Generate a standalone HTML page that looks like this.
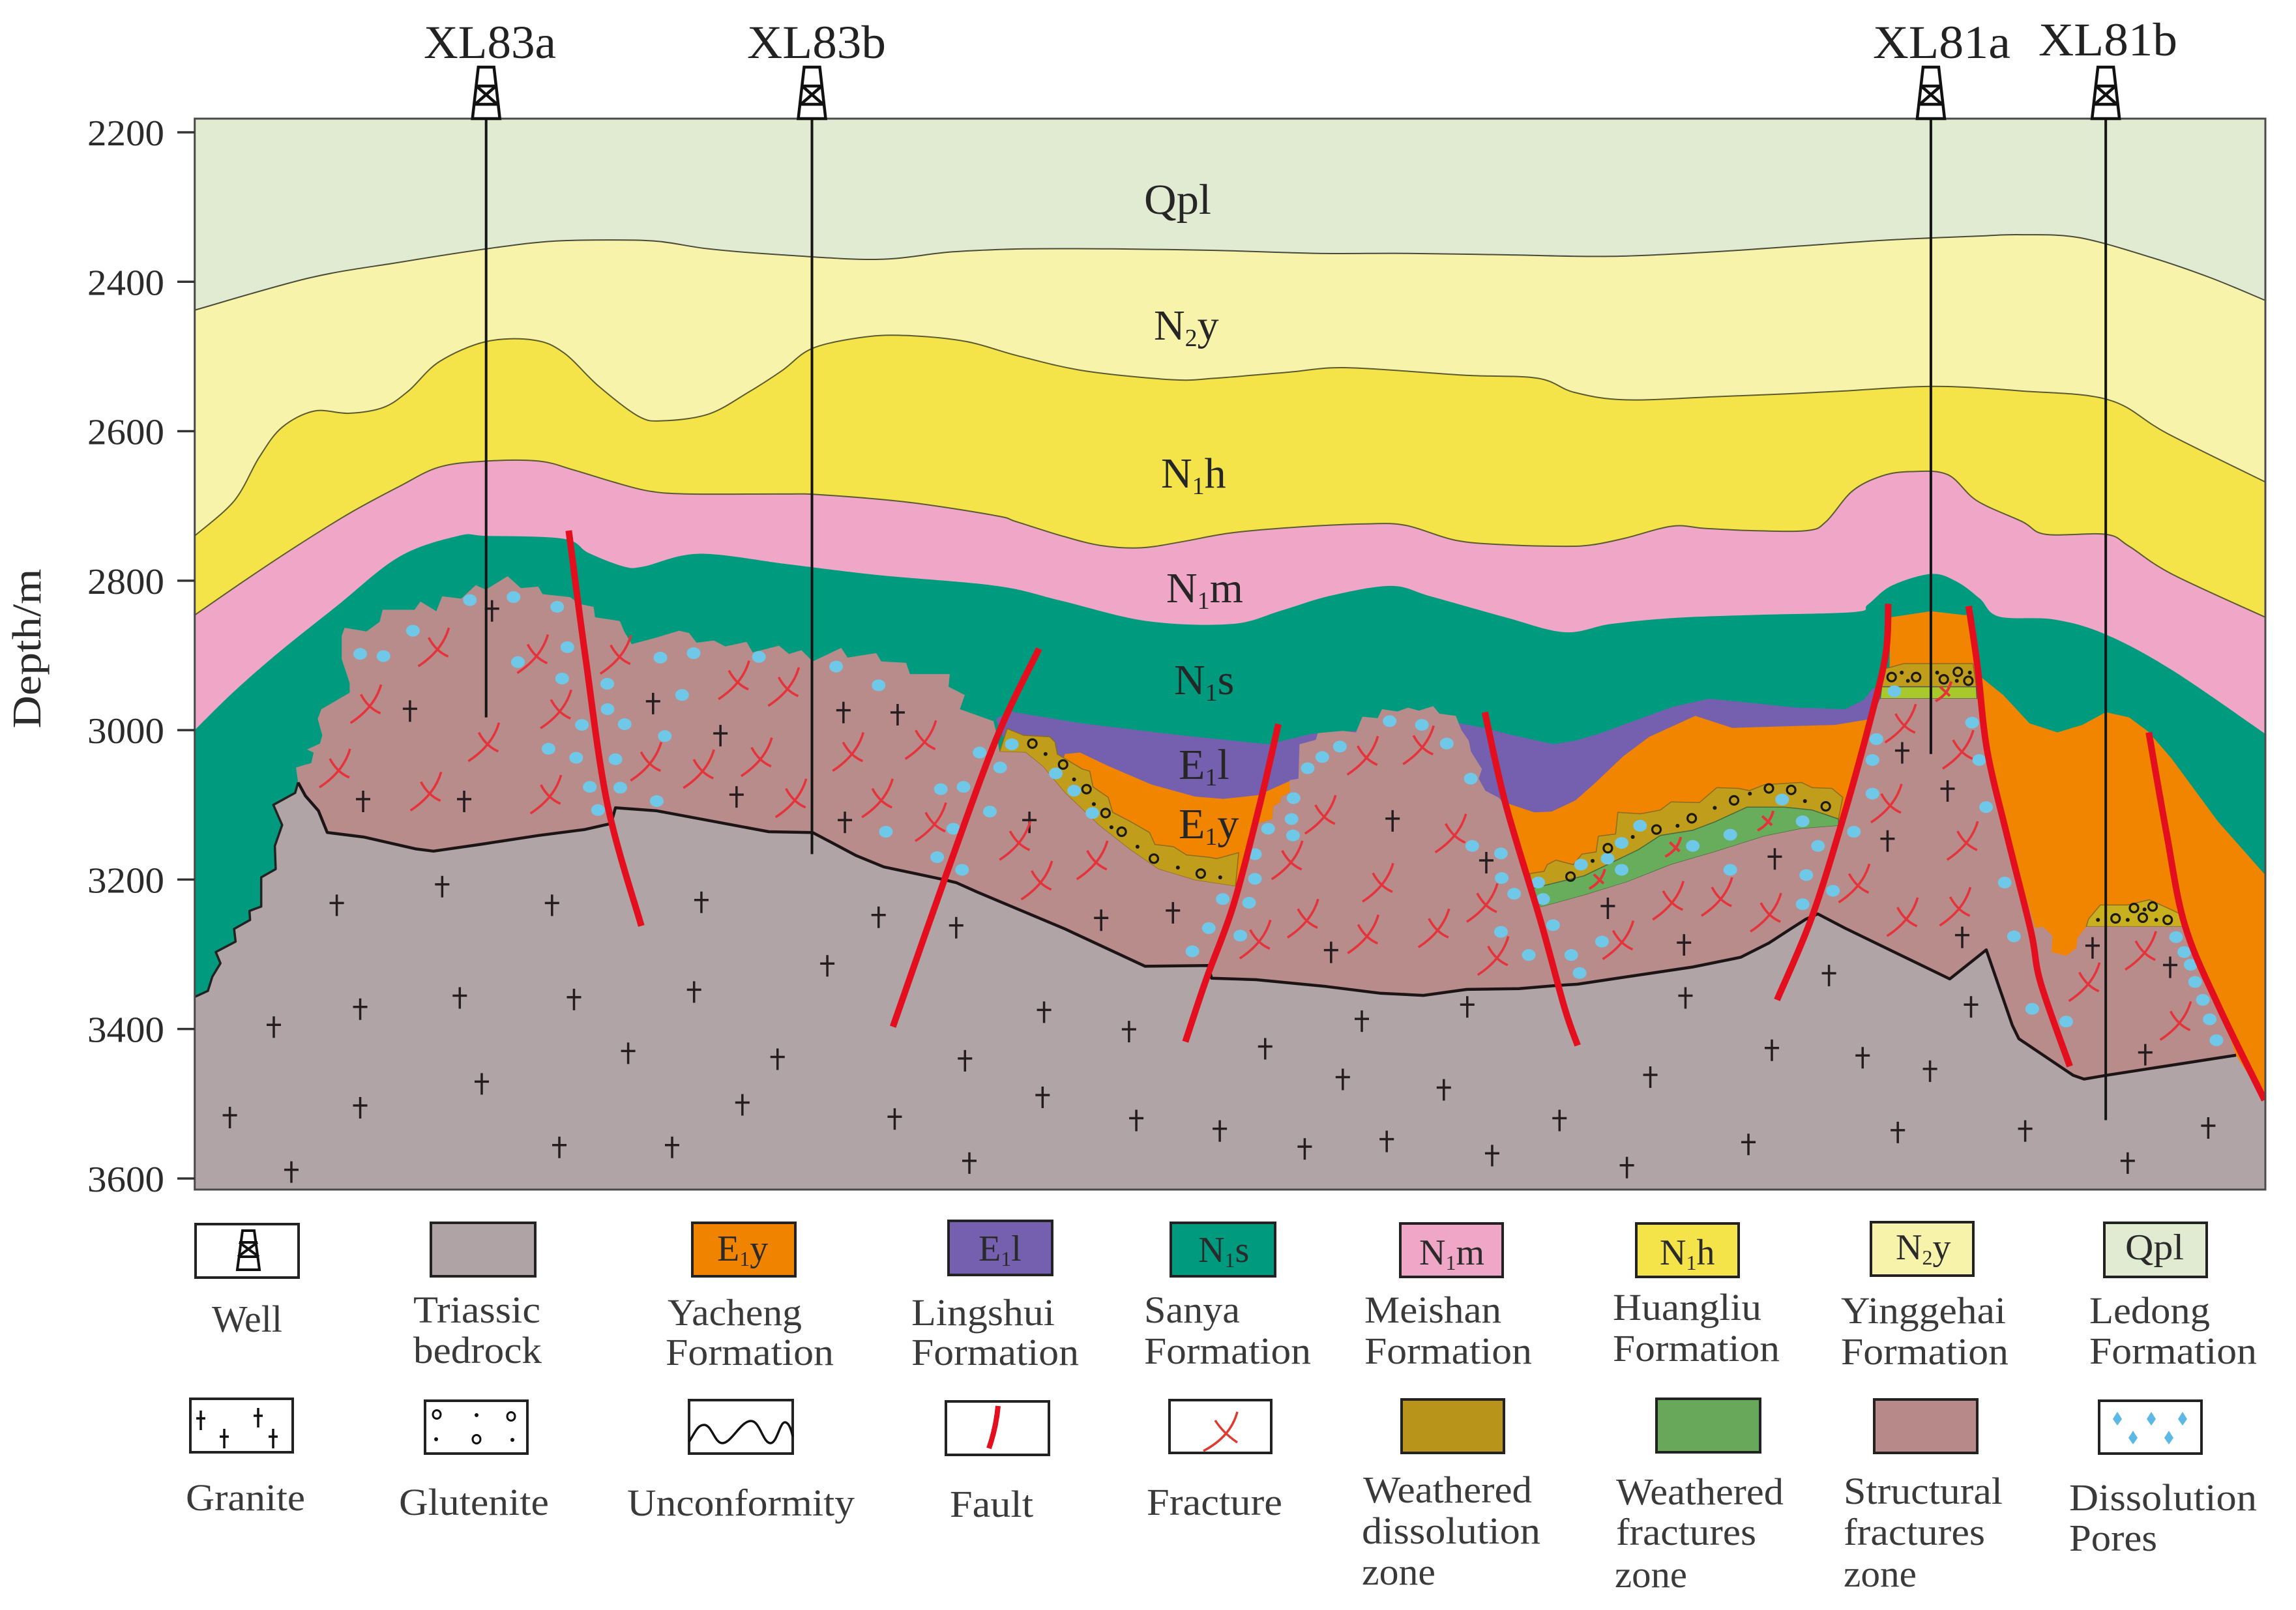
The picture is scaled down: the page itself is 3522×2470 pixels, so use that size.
<!DOCTYPE html>
<html lang="en">
<head>
<meta charset="utf-8">
<title>Geological cross-section</title>
<style>
html,body{margin:0;padding:0;background:#fff;}
svg{display:block;}
text{font-family:"Liberation Serif",serif;fill:#2b2b2b;}
.lg{font-size:58px;fill:#3a3a3a;}
.bx{stroke:#222;stroke-width:4;}
.sw{font-size:56px;fill:#2a2a2a;}
.ly{font-size:66px;fill:#262626;}
.wl{font-size:72px;fill:#222;}
</style>
</head>
<body>
<svg id="chart" xmlns="http://www.w3.org/2000/svg" width="3522" height="2470" viewBox="0 0 3522 2470">
<rect x="0" y="0" width="3522" height="2470" fill="#fff"/>
<defs><clipPath id="plotClip"><rect x="298.7" y="182" width="3176.3" height="1643"/></clipPath></defs>
<g id="plot" clip-path="url(#plotClip)"></g>
<rect x="298.7" y="182" width="3176.3" height="1643" fill="none" stroke="#4a4a4a" stroke-width="3"/>
<g id="axis"></g>
<text transform="translate(62,995) rotate(-90)" text-anchor="middle" font-size="62" textLength="245" lengthAdjust="spacingAndGlyphs">Depth/m</text>
<g id="wells"></g>
<text class="wl" x="650" y="89" textLength="203" lengthAdjust="spacingAndGlyphs">XL83a</text>
<text class="wl" x="1146" y="89" textLength="213" lengthAdjust="spacingAndGlyphs">XL83b</text>
<text class="wl" x="2873" y="89" textLength="211" lengthAdjust="spacingAndGlyphs">XL81a</text>
<text class="wl" x="3127" y="85" textLength="213" lengthAdjust="spacingAndGlyphs">XL81b</text>
<text class="ly" x="1755" y="328" textLength="103" lengthAdjust="spacingAndGlyphs">Qpl</text>
<text class="ly" x="1770" y="521">N<tspan font-size="38" dy="10">2</tspan><tspan dy="-10">y</tspan></text>
<text class="ly" x="1781" y="748">N<tspan font-size="38" dy="10">1</tspan><tspan dy="-10">h</tspan></text>
<text class="ly" x="1789" y="924">N<tspan font-size="38" dy="10">1</tspan><tspan dy="-10">m</tspan></text>
<text class="ly" x="1801" y="1065">N<tspan font-size="38" dy="10">1</tspan><tspan dy="-10">s</tspan></text>
<text class="ly" x="1808" y="1195">E<tspan font-size="38" dy="10">1</tspan><tspan dy="-10">l</tspan></text>
<text class="ly" x="1808" y="1286">E<tspan font-size="38" dy="10">1</tspan><tspan dy="-10">y</tspan></text>

<g>
<g>
<rect class="bx" x="300" y="1878" width="158" height="82" fill="#fff"/>
<path d="M372 1888h18l8 60h-34z M367 1906h28 M365 1928h32 M367 1906l30 22 M395 1906l-30 22" fill="none" stroke="#111" stroke-width="4"/>
<text class="lg" x="325" y="2043" textLength="108" lengthAdjust="spacingAndGlyphs">Well</text>
</g>
<g>
<rect class="bx" x="661" y="1876" width="160" height="82" fill="#b0a3a5"/>
<text class="lg" x="634" y="2029" textLength="195" lengthAdjust="spacingAndGlyphs">Triassic</text>
<text class="lg" x="634" y="2091" textLength="197" lengthAdjust="spacingAndGlyphs">bedrock</text>
</g>
<g>
<rect class="bx" x="1062" y="1876" width="158" height="82" fill="#f08300"/>
<text class="sw" x="1100" y="1934">E<tspan font-size="32" dy="8">1</tspan><tspan dy="-8">y</tspan></text>
<text class="lg" x="1024" y="2033" textLength="206" lengthAdjust="spacingAndGlyphs">Yacheng</text>
<text class="lg" x="1021" y="2094" textLength="258" lengthAdjust="spacingAndGlyphs">Formation</text>
</g>
<g>
<rect class="bx" x="1455" y="1873" width="159" height="83" fill="#7460ae"/>
<text class="sw" x="1501" y="1934">E<tspan font-size="32" dy="8">1</tspan><tspan dy="-8">l</tspan></text>
<text class="lg" x="1398" y="2033" textLength="220" lengthAdjust="spacingAndGlyphs">Lingshui</text>
<text class="lg" x="1398" y="2094" textLength="257" lengthAdjust="spacingAndGlyphs">Formation</text>
</g>
<g>
<rect class="bx" x="1796" y="1876" width="160" height="82" fill="#009b7e"/>
<text class="sw" x="1838" y="1936">N<tspan font-size="32" dy="8">1</tspan><tspan dy="-8">s</tspan></text>
<text class="lg" x="1755" y="2029" textLength="147" lengthAdjust="spacingAndGlyphs">Sanya</text>
<text class="lg" x="1755" y="2092" textLength="256" lengthAdjust="spacingAndGlyphs">Formation</text>
</g>
<g>
<rect class="bx" x="2148" y="1877" width="157" height="82" fill="#f0a6c6"/>
<text class="sw" x="2177" y="1940">N<tspan font-size="32" dy="8">1</tspan><tspan dy="-8">m</tspan></text>
<text class="lg" x="2093" y="2029" textLength="210" lengthAdjust="spacingAndGlyphs">Meishan</text>
<text class="lg" x="2093" y="2092" textLength="257" lengthAdjust="spacingAndGlyphs">Formation</text>
</g>
<g>
<rect class="bx" x="2510" y="1877" width="157" height="82" fill="#f4e44a"/>
<text class="sw" x="2546" y="1940">N<tspan font-size="32" dy="8">1</tspan><tspan dy="-8">h</tspan></text>
<text class="lg" x="2474" y="2025" textLength="228" lengthAdjust="spacingAndGlyphs">Huangliu</text>
<text class="lg" x="2474" y="2088" textLength="256" lengthAdjust="spacingAndGlyphs">Formation</text>
</g>
<g>
<rect class="bx" x="2870" y="1875" width="157" height="82" fill="#f8f3aa"/>
<text class="sw" x="2908" y="1932">N<tspan font-size="32" dy="8">2</tspan><tspan dy="-8">y</tspan></text>
<text class="lg" x="2824" y="2030" textLength="253" lengthAdjust="spacingAndGlyphs">Yinggehai</text>
<text class="lg" x="2824" y="2093" textLength="257" lengthAdjust="spacingAndGlyphs">Formation</text>
</g>
<g>
<rect class="bx" x="3228" y="1876" width="157" height="83" fill="#e0ebd2"/>
<text class="sw" x="3260" y="1932" textLength="90" lengthAdjust="spacingAndGlyphs">Qpl</text>
<text class="lg" x="3205" y="2030" textLength="185" lengthAdjust="spacingAndGlyphs">Ledong</text>
<text class="lg" x="3205" y="2092" textLength="257" lengthAdjust="spacingAndGlyphs">Formation</text>
</g>
<g>
<rect class="bx" x="292" y="2146" width="157" height="82" fill="#fff"/>
<path d="M308 2164v30M301 2176h14M396 2160v30M389 2172h14M344 2192v30M337 2204h14M419 2192v30M412 2204h14" fill="none" stroke="#111" stroke-width="3.5"/>
<text class="lg" x="285" y="2317" textLength="183" lengthAdjust="spacingAndGlyphs">Granite</text>
</g>
<g>
<rect class="bx" x="652" y="2149" width="157" height="81" fill="#fff"/>
<g fill="none" stroke="#111" stroke-width="3"><ellipse cx="670" cy="2170" rx="6" ry="6.5"/><ellipse cx="784" cy="2173" rx="6" ry="6.5"/><ellipse cx="731" cy="2208" rx="6" ry="6.5"/></g>
<g fill="#111"><circle cx="731" cy="2171" r="3"/><circle cx="669" cy="2208" r="3"/><circle cx="786" cy="2209" r="3"/></g>
<text class="lg" x="612" y="2324" textLength="230" lengthAdjust="spacingAndGlyphs">Glutenite</text>
</g>
<g>
<rect class="bx" x="1057" y="2148" width="159" height="82" fill="#fff"/>
<path d="M1057 2212C1066 2198 1070 2186 1080 2186C1092 2186 1096 2214 1108 2214C1122 2214 1136 2180 1152 2180C1166 2180 1170 2214 1182 2214C1192 2214 1196 2182 1204 2182C1210 2182 1214 2194 1216 2204" fill="none" stroke="#111" stroke-width="3.5"/>
<text class="lg" x="962" y="2325" textLength="349" lengthAdjust="spacingAndGlyphs">Unconformity</text>
</g>
<g>
<rect class="bx" x="1451" y="2150" width="158" height="82" fill="#fff"/>
<path d="M1531 2157Q1528 2190 1517 2222" fill="none" stroke="#e30f1e" stroke-width="8"/>
<text class="lg" x="1457" y="2327" textLength="128" lengthAdjust="spacingAndGlyphs">Fault</text>
</g>
<g>
<rect class="bx" x="1794" y="2148" width="156" height="81" fill="#fff"/>
<path d="M1846 2226Q1888 2204 1898 2166M1864 2179Q1876 2198 1898 2213" fill="none" stroke="#e0392f" stroke-width="3.5"/>
<text class="lg" x="1759" y="2324" textLength="208" lengthAdjust="spacingAndGlyphs">Fracture</text>
</g>
<g>
<rect class="bx" x="2150" y="2147" width="157" height="82" fill="#b8941a"/>
<text class="lg" x="2091" y="2305" textLength="259" lengthAdjust="spacingAndGlyphs">Weathered</text>
<text class="lg" x="2089" y="2368" textLength="274" lengthAdjust="spacingAndGlyphs">dissolution</text>
<text class="lg" x="2089" y="2431" textLength="113" lengthAdjust="spacingAndGlyphs">zone</text>
</g>
<g>
<rect class="bx" x="2541" y="2146" width="159" height="82" fill="#68a85a"/>
<text class="lg" x="2479" y="2308" textLength="257" lengthAdjust="spacingAndGlyphs">Weathered</text>
<text class="lg" x="2479" y="2370" textLength="215" lengthAdjust="spacingAndGlyphs">fractures</text>
<text class="lg" x="2477" y="2435" textLength="111" lengthAdjust="spacingAndGlyphs">zone</text>
</g>
<g>
<rect class="bx" x="2875" y="2147" width="158" height="82" fill="#b78a89"/>
<text class="lg" x="2828" y="2307" textLength="244" lengthAdjust="spacingAndGlyphs">Structural</text>
<text class="lg" x="2828" y="2370" textLength="217" lengthAdjust="spacingAndGlyphs">fractures</text>
<text class="lg" x="2828" y="2434" textLength="112" lengthAdjust="spacingAndGlyphs">zone</text>
</g>
<g>
<rect class="bx" x="3220" y="2149" width="157" height="81" fill="#fff"/>
<g fill="#5cb8e4"><path d="M3248 2166l7 11l-7 10l-7-10z"/><path d="M3300 2166l7 11l-7 10l-7-10z"/><path d="M3348 2166l7 11l-7 10l-7-10z"/><path d="M3272 2195l7 11l-7 10l-7-10z"/><path d="M3327 2195l7 11l-7 10l-7-10z"/></g>
<text class="lg" x="3174" y="2317" textLength="288" lengthAdjust="spacingAndGlyphs">Dissolution</text>
<text class="lg" x="3174" y="2379" textLength="135" lengthAdjust="spacingAndGlyphs">Pores</text>
</g>
</g>
</svg>
<script>
// ---- axis data ----
const tickValues = [2200, 2400, 2600, 2800, 3000, 3200, 3400, 3600];
const tickLabels = ['2200', '2400', '2600', '2800', '3000', '3200', '3400', '3600'];
const sectionRange = [133, 1547];
const depthRange = [2182, 3615];

// ---- horizon data: [section distance, depth in metres] ----
const qplBase = [[133,2438],[211,2395],[272.6,2374],[332,2356],[375,2346],[416,2344],[450,2346],[484,2356],[534,2364],[600,2370],[650,2360],[700,2356],[760,2356],[830,2358],[900,2362],[960,2362],[1030,2364],[1100,2366],[1170,2360],[1230,2352],[1290,2344],[1350,2339],[1380,2337],[1420,2341],[1470,2368],[1510,2395],[1547,2425]];
const yinggehaiBase = [[133,2740],[160,2693],[177,2635],[192.5,2595],[214.6,2573],[238.5,2576],[262,2568],[279,2546],[300,2507],[332,2480],[364.5,2478],[385,2495],[409,2540],[436,2580],[453,2586],[484,2577],[511,2548],[534,2519],[555,2489],[590,2474],[620,2472],[660,2480],[695,2499],[740,2519],[800,2531],[830,2529],[880,2521],[920,2515],[1000,2525],[1050,2529],[1075,2548],[1110,2558],[1170,2554],[1220,2550],[1260,2546],[1320,2540],[1380,2546],[1440,2558],[1480,2603],[1547,2668]];
const huangliuBase = [[133,2846],[170,2796],[204,2752],[238.5,2710],[272.6,2674],[300,2648],[332,2640],[368,2640],[392,2652],[419,2668],[443,2680],[470,2684],[534,2684],[560,2685],[620,2695],[680,2713],[694,2721],[725,2740],[752,2753],[779.5,2756],[807,2748],[841,2736],[888.5,2728],[933,2724],[960,2726],[994,2746],[1028,2752],[1068.5,2754],[1087.6,2752],[1110,2743],[1142,2727],[1164,2730],[1196,2733],[1234,2733],[1247,2721],[1265,2680],[1285,2660],[1305,2654],[1330,2658],[1350,2693],[1381,2721],[1397,2738],[1438,2738],[1454,2754],[1483,2791],[1547,2849]];
const meishanBase = [[133,3000],[160,2948],[191,2895],[230,2834],[272.6,2768],[313,2740],[332,2740],[385,2744],[402,2763],[426,2781],[439.5,2781],[477,2764],[534,2777],[554.6,2782],[602,2793],[680.7,2807],[725,2827],[783,2854],[841,2858],[875,2840],[909,2820],[950,2807],[977,2821],[1028,2849],[1068.5,2869],[1100,2858],[1142,2850],[1196,2846],[1266,2842],[1275.6,2832],[1291.5,2807],[1318.6,2791],[1336,2801],[1352,2824],[1365,2848],[1403,2852],[1438,2872],[1482.7,2919],[1547,3005]];

// ---- formation and zone outlines ----
const lingshuiOutline = [[680,2985],[690,2975],[738.6,2991],[806.8,3007],[866.4,3019],[895.4,3005],[997.2,2991],[1013.5,2997],[1031.3,3006],[1061,3019],[1075.9,3014],[1093,3004],[1142,2969],[1167,2958],[1228,2970],[1260,2972],[1272.5,2960],[1279,2944],[1290,2942],[1290,3121],[1030,3140],[1000,3121],[890,3121],[800,3121],[725,3052],[690,3032]];
const yachengWest = [[727.2,3032],[737.5,3030],[756.8,3048],[786.5,3073],[816.2,3089],[835.5,3092],[859.2,3087],[880.8,3068],[880.8,3083],[874.8,3090],[874.1,3097],[869.6,3102],[868.9,3119],[859.2,3125],[843,3211],[700,3211]];
const yachengCentral = [[1026,3095],[1031,3099],[1047.7,3110],[1059.6,3109],[1075.9,3094],[1089.2,3071],[1108.5,3035],[1126.3,3009],[1157.7,2981],[1183,2997],[1253,2993],[1278,2985],[1270,3121],[1230,3277],[1028,3277]];
const yachengEast = [[1291,2849],[1318.5,2841],[1341.5,2846],[1345,2846],[1353.4,2930],[1368,2953],[1386,2991],[1405,3003],[1422,2993],[1438,2976],[1454,2983],[1467,3002],[1483,3038],[1514.5,3122],[1547,3194],[1547,3495],[1285,3495]];
const dissolutionWest = [[687.8,2998],[699,3007],[716.8,3009],[720.5,3016],[722,3032],[739,3052],[744.2,3055],[746.4,3076],[756.8,3090],[759.8,3110],[771.7,3122],[785,3137],[788.7,3153],[801.4,3156],[810.3,3167],[825.1,3170],[831,3172],[845.9,3164],[843.7,3209],[816.2,3201],[791,3186],[771.7,3160],[750.9,3128],[727.2,3084],[712.3,3049],[700.5,3030],[682.6,3029]];
const dissolutionCentral = [[1044.7,3192],[1054.4,3189],[1056.6,3180],[1062.5,3174],[1074.4,3180],[1080.3,3166],[1090,3163],[1091.5,3142],[1103.3,3139],[1104.8,3110],[1120.4,3112],[1133.8,3107],[1141.2,3096],[1160.5,3097],[1172.3,3077],[1187.2,3078],[1194.6,3081],[1205,3073],[1230.2,3070],[1237.6,3077],[1251,3078],[1258.4,3090],[1255.5,3119],[1237.6,3107],[1218.3,3103],[1193.1,3103],[1170.9,3123],[1156,3134],[1133.8,3141],[1118.9,3160],[1104.1,3174],[1081.8,3195],[1046.2,3212]];
const dissolutionEast = [[1424.7,3263],[1426.2,3253],[1434.3,3234],[1452.9,3234],[1467.7,3227],[1478,3236],[1490,3247],[1491.5,3263]];
const dissolutionHorst = [[1285,2919],[1300,2911],[1347.4,2911],[1349.6,2942],[1285,2942]];
const weatheredFracturesCentral = [[1046.2,3212],[1081.8,3195],[1104.1,3174],[1118.9,3160],[1133.8,3141],[1156,3134],[1170.9,3123],[1193.1,3103],[1218.3,3103],[1237.6,3107],[1255.5,3119],[1255.5,3128],[1230.2,3132],[1205,3142],[1170.9,3163],[1141.2,3180],[1111.5,3203],[1081.8,3221],[1052.1,3237]];
const weatheredFracturesHorst = [[1285,2942],[1349.6,2942],[1350,2958],[1284,2958]];
const structuralOutline = [[203.6,3070],[202.2,3050],[212.6,3044],[214.2,3030],[209.6,3026],[218.5,3018],[220.1,3007],[217,2985],[219.5,2972],[238.8,2950],[238.8,2937],[233.4,2905],[233.4,2874],[235.4,2863],[250.3,2868],[259.3,2855],[261.3,2839],[283.1,2839],[287.1,2828],[298,2841],[302,2821],[315,2824],[324.9,2806],[331.8,2812],[346.7,2794],[355.7,2810],[367.6,2808],[370.6,2818],[389.5,2822],[395.4,2831],[405.4,2835],[406.4,2849],[423.3,2854],[426.3,2868],[431.4,2885],[448.5,2876],[463.8,2867],[470.6,2870],[475.7,2883],[487.6,2880],[495.3,2888],[509.8,2882],[514,2896],[532,2887],[538.8,2898],[547.3,2893],[555,2908],[574.5,2890],[578.8,2903],[598.4,2897],[601.8,2908],[618.8,2910],[621.4,2925],[648.6,2925],[647.8,2942],[658.9,2953],[655.5,2972],[678.5,2988],[680.2,3002],[682.6,3029],[700.5,3030],[712.3,3049],[727.2,3084],[750.9,3128],[771.7,3160],[791,3186],[816.2,3201],[843.7,3209],[859.2,3125],[868.9,3119],[869.6,3102],[874.1,3097],[874.8,3090],[880.8,3083],[880.7,3067],[886.7,3065],[887.4,3019],[898.5,3013],[900,3004],[917,3001],[926,3003],[930.4,2982],[940.8,2984],[943.8,2972],[954.2,2975],[961.6,2970],[969,2974],[978.7,2968],[983,2978],[994.2,2981],[998,3000],[1003,3014],[1004.6,3029],[1012,3052],[1009.8,3065],[1014.3,3081],[1023.9,3091],[1026.9,3099],[1047.7,3215],[1052.1,3237],[1081.8,3221],[1111.5,3203],[1141.2,3180],[1170.9,3163],[1205,3142],[1230.2,3132],[1255.5,3128],[1260,3111],[1277,2987],[1284,2958],[1350,2958],[1353.6,2988],[1361.6,3077],[1389.8,3265],[1395,3263],[1401.7,3275],[1401,3297],[1411.3,3302],[1418,3291],[1418.7,3278],[1424.7,3263],[1491.5,3263],[1494,3270],[1514.5,3361],[1527,3436],[1527,3532],[203,3532]];
const bedrockWestEdge = [[133,3357],[142,3349],[145,3330],[150.6,3312],[147.4,3297],[160.9,3283],[159.9,3266],[170.8,3254],[170.4,3242],[178.4,3236],[178.4,3197],[188.3,3186],[187.7,3155],[192.7,3127],[186.7,3100],[201.6,3084],[203.6,3070]];
const bedrockContact = [[203.6,3070],[208.6,3088],[217.5,3108],[223.5,3137],[248.3,3143],[284.1,3159],[296,3162],[327.8,3153],[367.6,3141],[399.4,3133],[417.3,3125],[420.3,3104],[448.5,3108],[525.1,3136],[555,3137],[584.8,3168],[603.5,3183],[644.4,3200],[652.9,3204],[667.8,3217],[727.2,3266],[782,3316],[825,3315],[827.4,3332],[857.8,3334],[868.1,3336],[905.2,3343],[942.3,3352],[972,3355],[1001.7,3347],[1037.3,3346],[1061,3342],[1077.4,3340],[1111.5,3330],[1156,3317],[1188.7,3304],[1208,3285],[1222.8,3266],[1233.2,3253],[1241.4,3246],[1259.9,3265],[1331.5,3333],[1356.4,3294],[1374.2,3395],[1378.7,3413],[1415.8,3462],[1423.2,3467],[1438,3462],[1527,3435]];
const bedrockBase = [[1546.4,3495],[1547,3615],[133,3615]];

// ---- fault traces ----
const faultA = [[388.4,2733],[400,2905],[415,3101],[438,3262]];
const faultB = [[709.6,2891],[680.7,3010],[645,3200],[609.8,3397]];
const faultC = [[873,2992],[861,3094],[842.5,3233],[823.8,3333],[809.5,3417]];
const faultD = [[1014,2976],[1028.2,3099],[1052,3255],[1068.5,3372],[1077.4,3422]];
const faultE = [[1289.5,2831],[1287.7,2899],[1277,2988],[1259.7,3111],[1237.4,3250],[1213.5,3361]];
const faultF = [[1344.4,2834],[1350.5,2916],[1357,3027],[1371,3144],[1387,3270],[1393.5,3338],[1413.5,3450]];
const faultG = [[1467.4,3003],[1479.5,3138],[1492,3261],[1514.5,3367],[1546.4,3495]];

// ---- wells ----
const wellDistances = [332, 554.5, 1318.6, 1438];
const wellBottoms = [2983, 3166, 3032, 3522];

// ---- scattered symbols ----
const granitePoints = [[336,2840],[280,2974],[248,3095],[317,3095],[446,2964],[492,3007],[503,3089],[576,2976],[613,2979],[577,3123],[703,3123],[752,3254],[801,3244],[909,3297],[951,3121],[1015,3177],[1098,3238],[1150,3287],[1212,3172],[1299,3030],[1330,3081],[1289,3148],[1340,3277],[1346,3370],[1429,3291],[1482,3317],[1465,3434],[230,3234],[302,3209],[377,3234],[479,3230],[600,3250],[653,3264],[565,3315],[246,3373],[314,3358],[392,3360],[474,3350],[187,3397],[429,3432],[531,3440],[713,3377],[771,3403],[659,3442],[712,3491],[329,3473],[246,3505],[157,3518],[507,3501],[611,3520],[199,3591],[382,3558],[459,3558],[662,3579],[776,3522],[833,3536],[891,3560],[947,3550],[1019,3569],[1065,3522],[1111,3585],[1194,3554],[1296,3538],[1383,3536],[1453,3579],[1508,3532],[864,3426],[930,3389],[917,3467],[986,3481],[1002,3370],[1127,3464],[1210,3428],[1272,3438],[1318,3456],[1249,3328],[1151,3358]];
const fracturePoints = [[299,2891],[252.7,2967],[231.5,3053],[293.7,3084],[375.6,3088],[333.2,3018],[382.5,2974],[366.6,2900],[423.3,2901],[504,2935],[538,2944],[519.5,3038],[480,3054],[444,3044],[582,3031],[631.6,3015],[602,3093],[543,3093],[638.4,3125],[696,3150],[710.8,3203],[748.7,3176],[860,3282],[881.8,3176],[904.5,3115],[892.6,3254],[933.7,3275],[943.8,3206],[982,3267],[1015,3233],[1022.5,3304],[993.5,3140],[933.4,3036],[971.5,3022],[1107.8,3283],[1142,3230],[1175.3,3225],[1208.7,3246],[1300.7,2993],[1340,3028],[1291,3100],[1343,3150],[1269,3207],[1302,3252],[1338,3238],[1426.2,3339],[1464.7,3297],[1488.5,3391]];
const smallFracturePoints = [[1091.5,3200],[1143.4,3157],[1206.5,3122],[1328,2949]];
const porePoints = [[571,2915],[600,2940],[669,3030],[683,3050],[691,3019],[642.5,3079],[658,3076],[676,3109],[651,3132],[605,3136],[640,3170],[657,3187],[721,3058],[733.5,3081],[746,3111],[835,3226],[853,3231],[825.5,3265],[847,3275],[814.3,3296],[857,3199],[857,3166],[866,3132],[882,3119],[883.4,3091],[883,3141],[893,3051],[903,3036],[915,3022],[949,2988],[971,2993],[988,3018],[1004.4,3065],[1005.4,3155],[1025,3165],[1025.5,3198],[1034,3219],[1025,3270],[1044,3301],[1053.8,3226],[1060.6,3261],[1050.4,3204],[282,2867],[320.9,2826],[350.7,2822],[380.5,2835],[387.5,2889],[246,2898],[261.9,2901],[353.7,2909],[383.9,2931],[414.7,2938],[414.9,2972],[397.4,2993],[426.6,2992],[374.6,3025],[393.5,3037],[420.3,3039],[402.8,3076],[423.6,3077],[408.4,3107],[451,2903],[473.7,2897],[518.3,2902],[465.8,2953],[454,3008],[448.5,3095],[1079.7,3180],[1107.4,3151],[1097.8,3172],[1107.4,3187],[1120,3128],[1156,3155],[1181.6,3140],[1217,3093],[1231,3122],[1181.6,3187],[1241.5,3155],[1266,3136],[1233.5,3194],[1231,3233],[1251.7,3215],[1278.7,3085],[1278.7,3040],[1281.4,3012],[1346.7,2990],[1351.6,3040],[1356.3,3103],[1369,3204],[1375.3,3276],[1387.8,3373],[1411,3390],[1094,3283],[1073,3301],[1078.7,3325],[1486,3277],[1491.6,3297],[1496,3314],[1499,3337],[1504.3,3361],[1509,3387],[1513.6,3415],[1293.7,2948]];
const gravelCircles = [[705,3018],[726,3046],[742,3079],[755,3111],[766,3136],[788,3172],[820,3192],[1072.5,3196],[1098,3158],[1131.2,3133],[1155.3,3118],[1184.2,3094],[1208,3078],[1223.2,3080],[1246.8,3102],[1291.8,2929],[1308.5,2929],[1327.4,2932],[1337,2922],[1344.2,2934],[1444.7,3252],[1457.3,3238],[1463.3,3251],[1470,3236],[1480.3,3254]];
const gravelDots = [[714,3032],[733.5,3066],[747,3099],[759,3130],[776.8,3156],[804.4,3184],[833.3,3197],[1087.6,3175],[1115,3143],[1145.6,3128],[1171,3104],[1195,3085],[1232.6,3095],[1298.7,2923],[1302.9,2934],[1322.9,2923],[1336.3,2934],[1345.2,2923],[1432.7,3254],[1453,3254],[1472.5,3254],[1464.5,3240]];

// ---- scales ----
const xScale = d => 298.7 + (d - sectionRange[0]) * (3475 - 298.7) / (sectionRange[1] - sectionRange[0]);
const yScale = v => 203 + (v - 2200) * 1.1464;

const NS = 'http://www.w3.org/2000/svg';
const plot = document.getElementById('plot');
const axis = document.getElementById('axis');
const wells = document.getElementById('wells');

function make(tag, parent, attrs) {
  const el = document.createElementNS(NS, tag);
  for (const k in attrs) el.setAttribute(k, attrs[k]);
  parent.appendChild(el);
  return el;
}
function straight(pts) {
  return pts.map((p, i) => (i ? 'L' : 'M') + xScale(p[0]).toFixed(1) + ' ' + yScale(p[1]).toFixed(1)).join('');
}
function smooth(pts) {
  const P = pts.map(p => [xScale(p[0]), yScale(p[1])]);
  let d = 'M' + P[0][0].toFixed(1) + ' ' + P[0][1].toFixed(1);
  for (let i = 0; i < P.length - 1; i++) {
    const a = P[Math.max(i - 1, 0)], b = P[i], c = P[i + 1], e = P[Math.min(i + 2, P.length - 1)];
    d += 'C' + (b[0] + (c[0] - a[0]) / 6).toFixed(1) + ' ' + (b[1] + (c[1] - a[1]) / 6).toFixed(1) + ' ' +
      (c[0] - (e[0] - b[0]) / 6).toFixed(1) + ' ' + (c[1] - (e[1] - b[1]) / 6).toFixed(1) + ' ' +
      c[0].toFixed(1) + ' ' + c[1].toFixed(1);
  }
  return d;
}
function area(top, fill) {
  const d = smooth(top) + 'L' + xScale(sectionRange[1]).toFixed(1) + ' ' + yScale(depthRange[1]).toFixed(1) + 'L' + xScale(sectionRange[0]).toFixed(1) + ' ' + yScale(depthRange[1]).toFixed(1) + 'Z';
  return make('path', plot, {d: d, fill: fill});
}
function zone(pts, fill, stroke, width) {
  return make('path', plot, {d: straight(pts) + 'Z', fill: fill, stroke: stroke || 'none', 'stroke-width': width || 0, 'stroke-linejoin': 'round'});
}
function line(pts, stroke, width, curved) {
  return make('path', plot, {d: curved ? smooth(pts) : straight(pts), fill: 'none', stroke: stroke, 'stroke-width': width, 'stroke-linejoin': 'round', 'stroke-linecap': 'butt'});
}

// ---- strata ----
const ledong = make('rect', plot, {x: xScale(sectionRange[0]), y: yScale(depthRange[0]), width: xScale(sectionRange[1]) - xScale(sectionRange[0]), height: yScale(depthRange[1]) - yScale(depthRange[0]), fill: '#e0ebd2'});


const yinggehai = area(qplBase, '#f8f3aa');


const huangliu = area(yinggehaiBase, '#f4e44a');


const meishan = area(huangliuBase, '#f0a6c6');


const sanya = area(meishanBase, '#009b7e');



const qplLine = line(qplBase, '#4a4a3a', 2, true);


const yLine = line(yinggehaiBase, '#5a5a30', 2, true);


const hLine = line(huangliuBase, '#5a5a30', 2, true);



const lingshui = zone(lingshuiOutline, '#7460ae');


const yW = zone(yachengWest, '#f28500');


const yC = zone(yachengCentral, '#f28500');


const yE = zone(yachengEast, '#f28500');


const dW = zone(dissolutionWest, '#c09e1c', '#8a6c20', 1.5);


const dC = zone(dissolutionCentral, '#c09e1c', '#8a6c20', 1.5);


const dE = zone(dissolutionEast, '#c8b01e', '#8a6c20', 1.5);


const dH = zone(dissolutionHorst, '#c09e1c', '#8a6c20', 1.5);


const gC = zone(weatheredFracturesCentral, '#68ad5c', '#4a6a3a', 1.5);


const gH = zone(weatheredFracturesHorst, '#a8c92c', '#555', 1.5);


const structural = zone(structuralOutline, '#b88c8b');


const bedrock = zone(bedrockWestEdge.concat(bedrockContact.slice(1), bedrockBase), '#b1a4a6');


const westEdge = line(bedrockWestEdge, '#222', 3.5, false);


const contact = line(bedrockContact, '#1c1416', 4.5, false);



// ---- symbols ----
granitePoints.forEach(p => {
  const x = xScale(p[0]), y = yScale(p[1]);
  const el = make('path', plot, {d: 'M' + x + ' ' + (y - 16) + 'v33M' + (x - 11) + ' ' + (y - 3) + 'h22', stroke: '#241c1e', 'stroke-width': 3.5, fill: 'none'});
  
  
});
fracturePoints.forEach(p => {
  const x = xScale(p[0]), y = yScale(p[1]);
  const el = make('path', plot, {d: 'M' + (x - 30) + ' ' + (y + 27) + 'Q' + (x + 7) + ' ' + (y + 3) + ' ' + (x + 17) + ' ' + (y - 32) + 'M' + (x - 14) + ' ' + (y - 17) + 'Q' + (x - 3) + ' ' + (y + 4) + ' ' + (x + 16) + ' ' + (y + 12), stroke: '#e5333b', 'stroke-width': 3.6, fill: 'none'});
  
  
});
smallFracturePoints.forEach(p => {
  const x = xScale(p[0]), y = yScale(p[1]);
  const el = make('path', plot, {d: 'M' + (x - 14) + ' ' + (y + 14) + 'Q' + (x + 5) + ' ' + (y + 4) + ' ' + (x + 10) + ' ' + (y - 16) + 'M' + (x - 7) + ' ' + (y - 8) + 'L' + (x + 8) + ' ' + (y + 6), stroke: '#e5333b', 'stroke-width': 4, fill: 'none'});
  
  
});
porePoints.forEach(p => {
  const el = make('ellipse', plot, {cx: xScale(p[0]), cy: yScale(p[1]), rx: 10.5, ry: 9, fill: '#70c8e8'});
  
  
});
gravelCircles.forEach(p => {
  const el = make('circle', plot, {cx: xScale(p[0]), cy: yScale(p[1]), r: 6.5, fill: 'none', stroke: '#1a1a10', 'stroke-width': 3.2});
  
  
});
gravelDots.forEach(p => {
  const el = make('circle', plot, {cx: xScale(p[0]), cy: yScale(p[1]), r: 3, fill: '#1a1a10'});
  
  
});

// ---- faults ----
const fA = line(faultA, '#e30f1e', 10, true);


const fB = line(faultB, '#e30f1e', 10, true);


const fC = line(faultC, '#e30f1e', 10, true);


const fD = line(faultD, '#e30f1e', 10, true);


const fE = line(faultE, '#e30f1e', 10, true);


const fF = line(faultF, '#e30f1e', 10, true);


const fG = line(faultG, '#e30f1e', 10, true);



// ---- wells ----
wellDistances.forEach((d, i) => {
  const x = xScale(d);
  const shaft = make('line', wells, {x1: x, x2: x, y1: yScale(depthRange[0]), y2: yScale(wellBottoms[i]), stroke: '#151515', 'stroke-width': 4});
  
  
  const top = 182;
  const rig = make('path', wells, {d: 'M' + (x - 12) + ' ' + (top - 79) + 'h24l9 79h-42zM' + (x - 15) + ' ' + (top - 50) + 'h30M' + (x - 17) + ' ' + (top - 22) + 'h34M' + (x - 15) + ' ' + (top - 50) + 'L' + (x + 17) + ' ' + (top - 22) + 'M' + (x + 15) + ' ' + (top - 50) + 'L' + (x - 17) + ' ' + (top - 22), fill: '#fff', stroke: '#111', 'stroke-width': 4.5, 'stroke-linejoin': 'miter'});
  
  
});

// ---- axis ----
tickValues.forEach((v, i) => {
  const y = yScale(v);
  const tick = make('line', axis, {x1: 272, x2: 298.7, y1: y, y2: y, stroke: '#333', 'stroke-width': 3.5});
  
  
  const label = make('text', axis, {x: 134, y: y + 20, 'font-size': 56, textLength: 118, lengthAdjust: 'spacingAndGlyphs'});
  label.textContent = tickLabels[i];
  
  
});
</script>
</body>
</html>
